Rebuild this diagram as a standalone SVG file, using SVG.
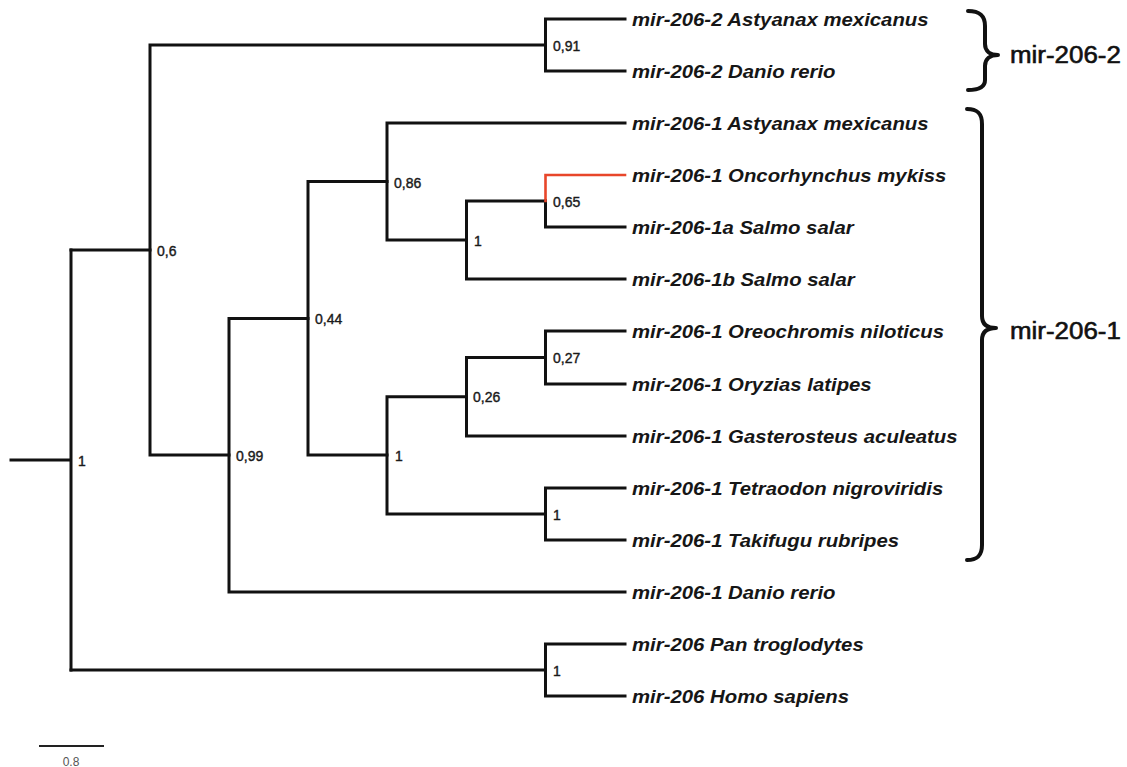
<svg xmlns="http://www.w3.org/2000/svg" width="1127" height="767" viewBox="0 0 1127 767">
  <style>
    .br { fill: none; stroke: #111; stroke-width: 3; stroke-linecap: square; }
    .br-hl { fill: none; stroke: #e8462a; stroke-width: 2.6; stroke-linecap: square; }
    .leaf { font-family: "Liberation Sans", Arial, sans-serif; font-style: italic; font-weight: bold; font-size: 18.5px; fill: #161616; }
    .sup { font-family: "Liberation Sans", Arial, sans-serif; font-size: 14px; fill: #1a1a1a; stroke: #1a1a1a; stroke-width: 0.4; }
    .clade { font-family: "Liberation Sans", Arial, sans-serif; font-size: 24px; fill: #111; stroke: #111; stroke-width: 0.6; }
    .brace { fill: none; stroke: #111; stroke-width: 4; stroke-linecap: round; stroke-linejoin: round; }
    .scale { fill: none; stroke: #222; stroke-width: 2; }
    .scale-t { font-family: "Liberation Sans", Arial, sans-serif; font-size: 12px; fill: #555; }
  </style>
  <rect width="1127" height="767" fill="#fff"/>

  <!-- branches of the tree -->
  <g id="branches">
    <!-- root stem and root split -->
    <path class="br" d="M11,460 H71 M71,250 V670"/>
    <!-- root children -->
    <path class="br" d="M71,250 H150 M71,670 H545.5"/>
    <!-- node 0,6 -->
    <path class="br" d="M150,45 V455 M150,45 H545.5 M150,455 H229"/>
    <!-- mir-206-2 pair (0,91) -->
    <path class="br" d="M545.5,19 V71 M545.5,19 H625 M545.5,71 H625"/>
    <!-- node 0,99 -->
    <path class="br" d="M229,318.5 V592 M229,318.5 H308 M229,592 H625"/>
    <!-- node 0,44 -->
    <path class="br" d="M308,181.5 V455 M308,181.5 H387 M308,455 H387"/>
    <!-- node 0,86 -->
    <path class="br" d="M387,123 V240 M387,123 H625 M387,240 H466.5"/>
    <!-- salmonid node 1 -->
    <path class="br" d="M466.5,201 V279 M466.5,201 H545.5 M466.5,279 H625"/>
    <!-- node 0,65 -->
    <path class="br" d="M545.5,201 V227 M545.5,227 H625"/>
    <path class="br-hl" d="M545.5,201 V175 H625"/>
    <!-- lower node 1 -->
    <path class="br" d="M387,396.75 V514 M387,396.75 H466.5 M387,514 H545.5"/>
    <!-- node 0,26 -->
    <path class="br" d="M466.5,357.5 V436 M466.5,357.5 H545.5 M466.5,436 H625"/>
    <!-- node 0,27 -->
    <path class="br" d="M545.5,331 V384 M545.5,331 H625 M545.5,384 H625"/>
    <!-- pufferfish node 1 -->
    <path class="br" d="M545.5,488 V540 M545.5,488 H625 M545.5,540 H625"/>
    <!-- primate node 1 -->
    <path class="br" d="M545.5,644 V696 M545.5,644 H625 M545.5,696 H625"/>
  </g>

  <!-- support values at internal nodes -->
  <g id="node-root"><text class="sup" x="78" y="466">1</text></g>
  <g id="node-06"><text class="sup" x="157" y="256">0,6</text></g>
  <g id="node-091"><text class="sup" x="553" y="51">0,91</text></g>
  <g id="node-099"><text class="sup" x="236" y="461">0,99</text></g>
  <g id="node-044"><text class="sup" x="315" y="324">0,44</text></g>
  <g id="node-086"><text class="sup" x="394" y="188">0,86</text></g>
  <g id="node-salmonid"><text class="sup" x="474" y="246">1</text></g>
  <g id="node-065"><text class="sup" x="553" y="207">0,65</text></g>
  <g id="node-lower"><text class="sup" x="395" y="461">1</text></g>
  <g id="node-026"><text class="sup" x="473" y="402">0,26</text></g>
  <g id="node-027"><text class="sup" x="553" y="363">0,27</text></g>
  <g id="node-pufferfish"><text class="sup" x="553" y="520">1</text></g>
  <g id="node-primate"><text class="sup" x="553" y="676">1</text></g>

  <!-- leaf labels -->
  <g id="leaf-206-2-amex"><text class="leaf" transform="translate(632,26) scale(1.1,1)">mir-206-2 Astyanax mexicanus</text></g>
  <g id="leaf-206-2-drer"><text class="leaf" transform="translate(632,78) scale(1.1,1)">mir-206-2 Danio rerio</text></g>
  <g id="leaf-206-1-amex"><text class="leaf" transform="translate(632,130) scale(1.1,1)">mir-206-1 Astyanax mexicanus</text></g>
  <g id="leaf-206-1-omyk"><text class="leaf" transform="translate(632,182) scale(1.1,1)">mir-206-1 Oncorhynchus mykiss</text></g>
  <g id="leaf-206-1a-ssal"><text class="leaf" transform="translate(632,234) scale(1.1,1)">mir-206-1a Salmo salar</text></g>
  <g id="leaf-206-1b-ssal"><text class="leaf" transform="translate(632,286) scale(1.1,1)">mir-206-1b Salmo salar</text></g>
  <g id="leaf-206-1-onil"><text class="leaf" transform="translate(632,338) scale(1.1,1)">mir-206-1 Oreochromis niloticus</text></g>
  <g id="leaf-206-1-olat"><text class="leaf" transform="translate(632,391) scale(1.1,1)">mir-206-1 Oryzias latipes</text></g>
  <g id="leaf-206-1-gacu"><text class="leaf" transform="translate(632,443) scale(1.1,1)">mir-206-1 Gasterosteus aculeatus</text></g>
  <g id="leaf-206-1-tnig"><text class="leaf" transform="translate(632,495) scale(1.1,1)">mir-206-1 Tetraodon nigroviridis</text></g>
  <g id="leaf-206-1-trub"><text class="leaf" transform="translate(632,547) scale(1.1,1)">mir-206-1 Takifugu rubripes</text></g>
  <g id="leaf-206-1-drer"><text class="leaf" transform="translate(632,599) scale(1.1,1)">mir-206-1 Danio rerio</text></g>
  <g id="leaf-206-ptro"><text class="leaf" transform="translate(632,651) scale(1.1,1)">mir-206 Pan troglodytes</text></g>
  <g id="leaf-206-hsap"><text class="leaf" transform="translate(632,703) scale(1.1,1)">mir-206 Homo sapiens</text></g>

  <!-- clade braces -->
  <g id="clade-206-2">
    <path class="brace" d="M968,11 C980,11 985,16 985,26 L985,44 C985,51 990,55 998,55 C990,55 985,59 985,66 L985,80 C985,86 980,90 968,90"/>
    <text class="clade" transform="translate(1010,63) scale(1.08,1)">mir-206-2</text>
  </g>
  <g id="clade-206-1">
    <path class="brace" d="M967,109 C977,109 982,113 982,124 L982,316 C982,324 987,328 996,328 C987,328 982,332 982,340 L982,545 C982,556 977,560 967,560"/>
    <text class="clade" transform="translate(1010,339) scale(1.08,1)">mir-206-1</text>
  </g>

  <!-- scale bar -->
  <g id="scale-bar">
    <path class="scale" d="M39,746 H104"/>
    <text class="scale-t" x="71" y="766" text-anchor="middle">0.8</text>
  </g>
</svg>
